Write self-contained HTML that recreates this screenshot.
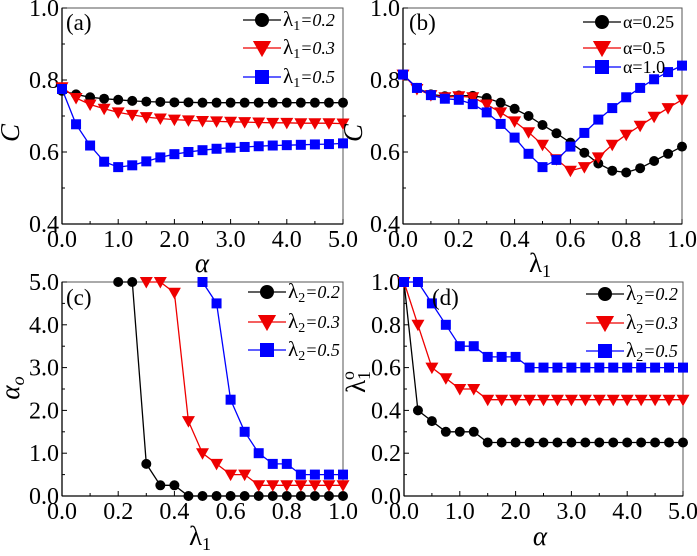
<!DOCTYPE html>
<html><head><meta charset="utf-8"><style>
body{margin:0;background:#fff}
svg text{font-family:"Liberation Serif",serif;fill:#000}
</style></head><body>
<svg id="fig" width="697" height="551" viewBox="0 0 697 551" xmlns="http://www.w3.org/2000/svg"></svg>
<script>
const alphaX=[0,0.25,0.5,0.75,1,1.25,1.5,1.75,2,2.25,2.5,2.75,3,3.25,3.5,3.75,4,4.25,4.5,4.75,5];
const lamX=[0,0.05,0.1,0.15,0.2,0.25,0.3,0.35,0.4,0.45,0.5,0.55,0.6,0.65,0.7,0.75,0.8,0.85,0.9,0.95,1];
const aBlack=[0.77,0.76,0.752,0.748,0.745,0.742,0.74,0.739,0.738,0.738,0.737,0.737,0.737,0.737,0.737,0.737,0.737,0.737,0.737,0.737,0.737];
const aRed=[0.78,0.75,0.732,0.72,0.71,0.703,0.697,0.693,0.69,0.688,0.686,0.685,0.684,0.683,0.682,0.681,0.681,0.68,0.68,0.68,0.679];
const aBlue=[0.775,0.677,0.618,0.573,0.558,0.563,0.574,0.585,0.594,0.6,0.605,0.609,0.612,0.614,0.616,0.618,0.619,0.62,0.621,0.622,0.624];
const bBlack=[0.815,0.778,0.76,0.755,0.757,0.756,0.75,0.737,0.72,0.7,0.675,0.652,0.626,0.598,0.568,0.548,0.543,0.555,0.575,0.595,0.615];
const bRed=[0.815,0.775,0.758,0.752,0.755,0.752,0.732,0.71,0.685,0.655,0.62,0.58,0.548,0.558,0.585,0.62,0.648,0.673,0.698,0.722,0.745];
const bBlue=[0.815,0.778,0.758,0.748,0.745,0.733,0.71,0.678,0.64,0.595,0.558,0.578,0.615,0.653,0.69,0.722,0.752,0.778,0.802,0.822,0.84];
const cBlack=[null,null,null,null,5,5,0.75,0.25,0.25,0,0,0,0,0,0,0,0,0,0,0,0];
const cRed=[null,null,null,null,null,null,5,5,4.75,1.75,1.0,0.75,0.5,0.5,0.25,0.25,0.25,0.25,0.25,0.25,0.25];
const cBlue=[null,null,null,null,null,null,null,null,null,null,5,4.5,2.25,1.5,1.0,0.75,0.75,0.5,0.5,0.5,0.5];
const dBlack=[1.0,0.4,0.35,0.3,0.3,0.3,0.25,0.25,0.25,0.25,0.25,0.25,0.25,0.25,0.25,0.25,0.25,0.25,0.25,0.25,0.25];
const dRed=[1.0,0.8,0.6,0.55,0.5,0.5,0.45,0.45,0.45,0.45,0.45,0.45,0.45,0.45,0.45,0.45,0.45,0.45,0.45,0.45,0.45];
const dBlue=[1.0,1.0,0.9,0.8,0.7,0.7,0.65,0.65,0.65,0.6,0.6,0.6,0.6,0.6,0.6,0.6,0.6,0.6,0.6,0.6,0.6];
const aTicks=["0.0","1.0","2.0","3.0","4.0","5.0"];
const lTicks=["0.0","0.2","0.4","0.6","0.8","1.0"];
const cTicks=["0.4","0.6","0.8","1.0"];
const c5Ticks=["0.0","1.0","2.0","3.0","4.0","5.0"];
const aLeg=["=0.2","=0.3","=0.5"];
const bLeg=["α=0.25","α=0.5","α=1.0"];

const NS="http://www.w3.org/2000/svg";
const svg=document.getElementById('fig');
function mk(tag,attrs,parent){const e=document.createElementNS(NS,tag);for(const k in attrs)e.setAttribute(k,attrs[k]);(parent||svg).appendChild(e);return e;}
const colors=["#000","#e00","#00f"];
function marker(g,type,x,y,c,name,s){
  s=s||1;let e;
  if(type==0)e=mk('circle',{cx:x,cy:y,r:5*s,fill:c},g);
  else if(type==1)e=mk('path',{d:`M${x-6.5*s},${y-5*s}L${x+6.5*s},${y-5*s}L${x},${y+6.5*s}Z`,fill:c},g);
  else e=mk('rect',{x:x-5*s,y:y-5*s,width:10*s,height:10*s,fill:c},g);
  
  
}
function panel(o){
  const g=mk('g',{});
  
  
  const sx=v=>o.x0+(v-o.xmin)/(o.xmax-o.xmin)*(o.x1-o.x0);
  const sy=v=>o.y0+(v-o.ymin)/(o.ymax-o.ymin)*(o.y1-o.y0);
  const fr=mk('rect',{x:o.x0,y:o.y1,width:o.x1-o.x0,height:o.y0-o.y1,fill:'none',stroke:'#555','stroke-width':1},g);
  
  
  mk('line',{x1:o.x0,y1:o.y0,x2:o.x1,y2:o.y0,stroke:'#000','stroke-width':1.3},g);
  mk('line',{x1:o.x0,y1:o.y0,x2:o.x0,y2:o.y1,stroke:'#000','stroke-width':1.3},g);
  const nx=o.xt.length;
  for(let i=0;i<nx;i++){
    const v=o.xmin+i*(o.xmax-o.xmin)/(nx-1), X=sx(v);
    mk('line',{x1:X,y1:o.y0,x2:X,y2:o.y0-5,stroke:'#000'},g);
    if(i<nx-1){const m=sx(v+(o.xmax-o.xmin)/(nx-1)/2);mk('line',{x1:m,y1:o.y0,x2:m,y2:o.y0-3,stroke:'#000'},g);}
    const t=mk('text',{x:X,y:o.y0+23,'font-size':24,'text-anchor':'middle'},g);t.textContent=o.xt[i];
    
    
  }
  const ny=o.yt.length;
  for(let i=0;i<ny;i++){
    const v=o.ymin+i*(o.ymax-o.ymin)/(ny-1), Y=sy(v);
    mk('line',{x1:o.x0,y1:Y,x2:o.x0+5,y2:Y,stroke:'#000'},g);
    if(i<ny-1){const m=sy(v+(o.ymax-o.ymin)/(ny-1)/2);mk('line',{x1:o.x0,y1:m,x2:o.x0+3,y2:m,stroke:'#000'},g);}
    const t=mk('text',{x:o.x0-3,y:Y+8,'font-size':24,'text-anchor':'end'},g);t.textContent=o.yt[i];
    
    
  }
  o.series.forEach((s,k)=>{
    const sg=mk('g',{},g);
    
    
    let d='';let started=false;
    s.forEach((v,i)=>{if(v===null)return;d+=(started?'L':'M')+sx(o.xs[i]).toFixed(1)+','+sy(v).toFixed(1);started=true;});
    mk('path',{d:d,fill:'none',stroke:colors[k],'stroke-width':1.3},sg);
    s.forEach((v,i)=>{if(v===null)return;marker(sg,k,sx(o.xs[i]),sy(v),colors[k],'point');});
  });
  o.legY.forEach((ly,k)=>{
    const lg=mk('g',{},g);
    
    
    mk('line',{x1:o.legX,y1:ly,x2:o.legX+38,y2:ly,stroke:colors[k],'stroke-width':1.3},lg);
    marker(lg,k,o.legX+19,ly,colors[k],'legend-marker',1.4);
    const t=mk('text',{x:o.legX+40,y:ly+6,'font-size':18},lg);
    if(o.legSym){t.innerHTML=`<tspan font-size="21">λ</tspan><tspan font-size="14" dy="4">${o.legSym}</tspan><tspan dy="-4" font-style="italic" font-size="18">${o.leg[k]}</tspan>`;}
    else t.textContent=o.leg[k];
  });
  const pl=mk('text',{x:o.lab[0],y:o.lab[1],'font-size':23},g);pl.textContent=o.label;
  
  
  return g;
}
panel({name:'panel-a',x0:62,x1:343,y0:224,y1:8,xmin:0,xmax:5,ymin:0.4,ymax:1.0,xt:aTicks,yt:cTicks,xs:alphaX,series:[aBlack,aRed,aBlue],legX:243,legY:[20,48,77],leg:aLeg,legSym:'1',lab:[66,30],label:'(a)'});
panel({name:'panel-b',x0:403,x1:682,y0:224,y1:8,xmin:0,xmax:1,ymin:0.4,ymax:1.0,xt:lTicks,yt:cTicks,xs:lamX,series:[bBlack,bRed,bBlue],legX:583,legY:[22,48,67],leg:bLeg,legSym:null,lab:[409,30],label:'(b)'});
panel({name:'panel-c',x0:62,x1:343,y0:496,y1:282,xmin:0,xmax:1,ymin:0,ymax:5,xt:lTicks,yt:c5Ticks,xs:lamX,series:[cBlack,cRed,cBlue],legX:248,legY:[292,322,350],leg:aLeg,legSym:'2',lab:[66,305],label:'(c)'});
panel({name:'panel-d',x0:404,x1:683,y0:496,y1:282,xmin:0,xmax:5,ymin:0,ymax:1.0,xt:aTicks,yt:lTicks,xs:alphaX,series:[dBlack,dRed,dBlue],legX:586,legY:[294,323,351],leg:aLeg,legSym:'2',lab:[432,305],label:'(d)'});
function title(html,x,y,rot,name){const t=mk('text',{x:x,y:y,'font-size':27,'text-anchor':'middle',transform:rot?`rotate(-90 ${x} ${y})`:''});t.innerHTML=html;}
title('<tspan font-style="italic">C</tspan>',19,133,true,'y-axis-title-a');
title('<tspan font-style="italic">C</tspan>',362,133,true,'y-axis-title-b');
title('<tspan font-style="italic">α</tspan>',202,272,false,'x-axis-title-a');
title('λ<tspan font-size="18" dy="5">1</tspan>',540,272,false,'x-axis-title-b');
title('<tspan font-style="italic">α</tspan><tspan font-size="18" dy="5" font-style="italic">o</tspan>',19,388,true,'y-axis-title-c');
title('λ<tspan font-size="18" dy="5">1</tspan><tspan font-size="18" dy="-16" dx="-9">o</tspan>',365,382,true,'y-axis-title-d');
title('λ<tspan font-size="18" dy="5">1</tspan>',200,545,false,'x-axis-title-c');
title('<tspan font-style="italic">α</tspan>',540,545,false,'x-axis-title-d');
</script>
</body></html>
